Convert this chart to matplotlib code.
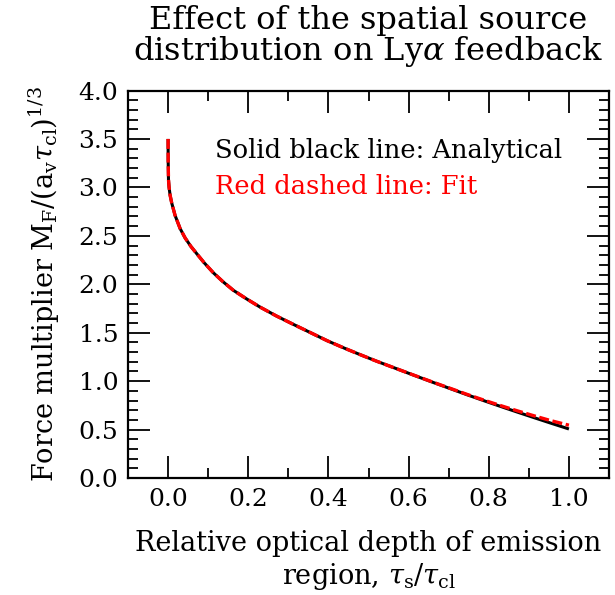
import matplotlib
matplotlib.use("Agg")
import matplotlib.pyplot as plt
from matplotlib.ticker import MultipleLocator, FormatStrFormatter

plt.rcParams['font.family'] = ['DejaVu Serif']
plt.rcParams['mathtext.fontset'] = 'dejavuserif'

# Relative optical depth of the emission region, tau_s / tau_cl
tau_ratio = [0.0, 0.0002, 0.001, 0.0025, 0.005, 0.009, 0.0175, 0.03, 0.0425,
             0.057, 0.072, 0.09, 0.113, 0.137, 0.163, 0.195, 0.23, 0.27,
             0.313, 0.355, 0.397, 0.44, 0.48, 0.52, 0.563, 0.613, 0.663,
             0.705, 0.746, 0.79, 0.83, 0.87, 0.913, 0.955, 1.0]
# Analytical force multiplier
analytical = [3.50, 3.28, 3.08, 3.00, 2.92, 2.84, 2.71, 2.575, 2.478,
              2.39, 2.313, 2.222, 2.118, 2.026, 1.937, 1.851, 1.763, 1.673,
              1.585, 1.501, 1.417, 1.340, 1.272, 1.206, 1.139, 1.061, 0.984,
              0.921, 0.859, 0.795, 0.738, 0.682, 0.623, 0.566, 0.506]
# Fitted force multiplier
fit = [3.50, 3.28, 3.08, 3.00, 2.92, 2.84, 2.71, 2.575, 2.478,
       2.39, 2.313, 2.222, 2.118, 2.026, 1.937, 1.851, 1.763, 1.673,
       1.585, 1.501, 1.417, 1.340, 1.272, 1.206, 1.139, 1.062, 0.986,
       0.924, 0.863, 0.801, 0.747, 0.695, 0.642, 0.592, 0.545]

fig = plt.figure(figsize=(6.15, 5.95), dpi=100)
ax = fig.add_axes([128 / 615, 1 - 478 / 595, 481 / 615, 387.5 / 595])

ax.plot(tau_ratio, analytical, color='black', lw=2.2, solid_capstyle='butt')
ax.plot(tau_ratio, fit, color='red', lw=2.4, ls=(0, (3.0, 1.1)))

ax.set_xlim(-0.1, 1.1)
ax.set_ylim(0.0, 4.0)
ax.xaxis.set_major_locator(MultipleLocator(0.2))
ax.xaxis.set_minor_locator(MultipleLocator(0.1))
ax.yaxis.set_major_locator(MultipleLocator(0.5))
ax.yaxis.set_minor_locator(MultipleLocator(0.1))
ax.tick_params(which='both', direction='in', top=True, right=True, width=1.3,
               labelsize=18, pad=7, color='black')
ax.tick_params(which='major', length=16)
ax.tick_params(which='minor', length=7)
for sp in ax.spines.values():
    sp.set_linewidth(1.6)
ax.xaxis.set_major_formatter(FormatStrFormatter('%.1f'))
ax.yaxis.set_major_formatter(FormatStrFormatter('%.1f'))

ax.set_title('Effect of the spatial source\ndistribution on Ly$\\alpha$ feedback',
             fontsize=23, pad=22, linespacing=0.92)
ax.set_xlabel('Relative optical depth of emission\nregion, $\\tau_\\mathrm{s}/\\tau_\\mathrm{cl}$',
              fontsize=19.5, labelpad=14, linespacing=1.15)
ax.set_ylabel('Force multiplier $\\mathrm{M_F}/(\\mathrm{a_v}\\tau_\\mathrm{cl})^{1/3}$',
              fontsize=19.5, labelpad=12)

ax.text(0.118, 3.385, 'Solid black line: Analytical', fontsize=18.5,
        color='black', va='center', ha='left')
ax.text(0.118, 3.01, 'Red dashed line: Fit', fontsize=18.5,
        color='red', va='center', ha='left')

fig.savefig('out.png', dpi=100)
